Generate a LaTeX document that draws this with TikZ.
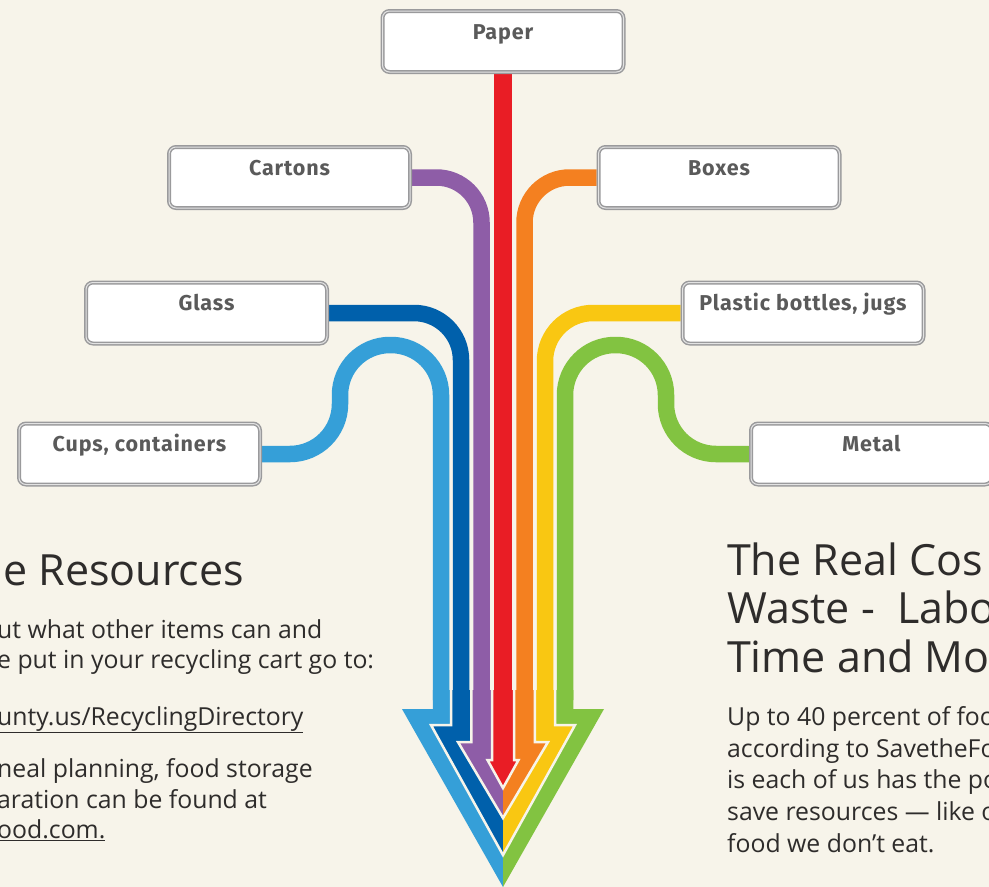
\documentclass[tikz,border=0pt]{standalone}
\usepackage{fontspec}
\setmainfont{Open Sans}
\newfontfamily\labelfont[LetterSpace=4]{Fira Sans}
\usepackage{xcolor}
\usepackage{tikz}
\usetikzlibrary{positioning, backgrounds}

\definecolor{cream}{HTML}{F7F4EA}
\definecolor{ltblue}{HTML}{359FD8}
\definecolor{dkblue}{HTML}{0060AB}
\definecolor{purp}{HTML}{8E5DA7}
\definecolor{redstripe}{HTML}{E91D25}
\definecolor{orng}{HTML}{F48020}
\definecolor{yell}{HTML}{F9C712}
\definecolor{grn}{HTML}{82C341}
\definecolor{labelgray}{HTML}{5A5A5A}
\definecolor{inkgray}{HTML}{2E2C2B}
\definecolor{rimgray}{HTML}{9A9A9C}

\tikzset{
    binbox/.style={
        rectangle,
        rounded corners=7pt,
        draw=rimgray,
        line width=4pt,
        fill=white,
        minimum width=241pt,
        minimum height=61pt,
        inner sep=0pt,
        text height=16pt,
        text depth=21pt,
        text=labelgray,
        font=\labelfont\bfseries\fontsize{21.5pt}{25pt}\selectfont,
        postaction={draw=gray!22, line width=1pt}
    },
    stripe/.style={
        line width=16.5pt,
        line cap=butt
    },
    sep/.style={
        draw=cream,
        line width=2.5pt
    },
    headtext/.style={
        anchor=base west,
        inner sep=0pt,
        text=inkgray,
        font=\fontsize{43pt}{48pt}\selectfont
    },
    bodytext/.style={
        anchor=base west,
        inner sep=0pt,
        text=inkgray,
        font=\fontsize{24.8pt}{30pt}\selectfont
    }
}

\begin{document}
\begin{tikzpicture}[x=1pt, y=-1pt]

\path[use as bounding box] (0,0) rectangle (989,887);
\clip (0,0) rectangle (989,887);

% Material boxes
\node[binbox] (paper) at (503,41.5) {Paper};
\node[binbox] (cartons) at (289.5,177.5) {Cartons};
\node[binbox] (boxes) at (719,177.5) {Boxes};
\node[binbox] (glass) at (206.5,313) {Glass};
\node[binbox] (plastic) at (803,313) {Plastic bottles, jugs};
\node[binbox] (cups) at (139.5,454) {Cups, containers};
\node[binbox] (metal) at (871.5,454) {Metal};

% Stripe ends above the arrow
\coordinate (lbEnd) at (441,700);
\coordinate (dbEnd) at (461,700);
\coordinate (puEnd) at (481.5,700);
\coordinate (rdEnd) at (503,700);
\coordinate (orEnd) at (524.5,700);
\coordinate (yeEnd) at (545,700);
\coordinate (grEnd) at (565,700);
\coordinate (lbBend) at (340,345);
\coordinate (grBend) at (666,345);

% Stripes
\begin{pgfonlayer}{background}
\fill[cream] (0,0) rectangle (989,887);
\draw[stripe, ltblue, rounded corners=50pt] (cups.east) -| (lbBend) -| (lbEnd);
\draw[stripe, dkblue, rounded corners=47pt] (glass.east) -| (dbEnd);
\draw[stripe, purp, rounded corners=45pt] (cartons.east) -| (puEnd);
\draw[stripe, redstripe, line width=18pt] (paper.south) -- (rdEnd);
\draw[stripe, orng, rounded corners=45pt] (boxes.west) -| (orEnd);
\draw[stripe, yell, rounded corners=48pt] (plastic.west) -| (yeEnd);
\draw[stripe, grn, rounded corners=50pt] (metal.west) -| (grBend) -| (grEnd);
\end{pgfonlayer}

% Arrow head, outer to inner
\fill[ltblue] (432.75,690) -- (432.75,709) -- (402,709) -- (503,887) -- (503,690) -- cycle;
\fill[grn] (573.25,690) -- (573.25,709) -- (604,709) -- (503,887) -- (503,690) -- cycle;

\fill[dkblue] (451,690) -- (451,725) -- (431,725) -- (503,855) -- (503,690) -- cycle;
\fill[yell] (555,690) -- (555,725) -- (575,725) -- (503,855) -- (503,690) -- cycle;
\draw[sep] (451,690) -- (451,725) -- (431,725) -- (503,855) -- (575,725) -- (555,725) -- (555,690);

\fill[purp] (471.25,690) -- (471.25,742) -- (458,742) -- (503,818) -- (503,690) -- cycle;
\fill[orng] (534.75,690) -- (534.75,742) -- (548,742) -- (503,818) -- (503,690) -- cycle;
\draw[sep] (471.25,690) -- (471.25,742) -- (458,742) -- (503,818) -- (548,742) -- (534.75,742) -- (534.75,690);

\fill[redstripe] (492,690) -- (492,760) -- (487.5,760) -- (503,788) -- (518.5,760) -- (514,760) -- (514,690) -- cycle;
\draw[sep] (492,690) -- (492,760) -- (487.5,760) -- (503,788) -- (518.5,760) -- (514,760) -- (514,690);

% Left text block
\node[headtext] (leftTitle) at (3,585) {e Resources};
\node[bodytext] (leftA) at (-3,638) {ut what other items can and};
\node[bodytext] (leftB) at (-3,668) {e put in your recycling cart go to:};
\node[bodytext] (leftC) at (-3,725) {\underline{unty.us/RecyclingDirectory}};
\node[bodytext] (leftD) at (-3,777) {neal planning, food storage};
\node[bodytext] (leftE) at (-3,808) {aration can be found at};
\node[bodytext] (leftF) at (-3,838) {\underline{ood.com.}};

% Right text block
\node[headtext] (rightTitleA) at (727,575) {The Real Cos};
\node[headtext] (rightTitleB) at (727,623) {Waste -\ \ Labo};
\node[headtext] (rightTitleC) at (727,672) {Time and Mo};
\node[bodytext] (rightA) at (727,725) {Up to 40 percent of foo};
\node[bodytext] (rightB) at (727,757) {according to SavetheFo};
\node[bodytext] (rightC) at (727,788) {is each of us has the po};
\node[bodytext] (rightD) at (727,820) {save resources — like o};
\node[bodytext] (rightE) at (727,852) {food we don’t eat.};

\end{tikzpicture}
\end{document}
